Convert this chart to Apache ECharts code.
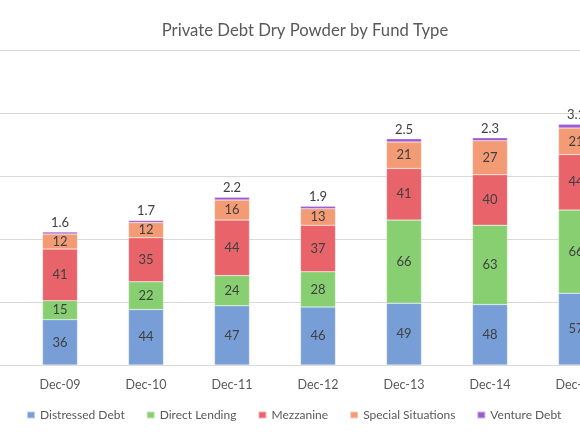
<!DOCTYPE html>
<html>
<head>
<meta charset="utf-8">
<script src="https://cdn.jsdelivr.net/npm/echarts@6/dist/echarts.min.js"></script>
<style>
  html, body { margin: 0; padding: 0; background: #fff; overflow: hidden; }
  #main { width: 620px; height: 435px; }
</style>
</head>
<body>
<div id="main"></div>
<script>
// data
var categories = ['Dec-09', 'Dec-10', 'Dec-11', 'Dec-12', 'Dec-13', 'Dec-14', 'Dec-15'];
var distressed = [36, 44, 47, 46, 49, 48, 57];
var directLending = [15, 22, 24, 28, 66, 63, 66];
var mezzanine = [41, 35, 44, 37, 41, 40, 44];
var specialSit = [12, 12, 16, 13, 21, 27, 21];
var venture = [1.6, 1.7, 2.2, 1.9, 2.5, 2.3, 3.1];
var yTicks = [0, 50, 100, 150, 200, 250];

var font = 'Lato';
var textColor = '#595959';
var gridColor = '#d9d9d9';

// the chart is wider than the window; the right part is cut off like in the source
var chart = echarts.init(document.getElementById('main'));

function seg(name, data, color, pos) {
    return {
        name: name,
        type: 'bar',
        stack: 'total',
        barWidth: 35,
        data: data,
        itemStyle: { color: color, borderColor: 'rgba(255,255,255,0.5)', borderWidth: 0.5 },
        label: {
            show: true,
            position: pos || 'inside',
            color: '#404040',
            fontFamily: font,
            fontSize: 13,
            distance: 3
        }
    };
}

var option = {
    backgroundColor: '#fff',
    animation: false,
    title: {
        text: 'Private Debt Dry Powder by Fund Type',
        left: 300,
        textAlign: 'center',
        top: 17,
        textStyle: { fontFamily: font, fontSize: 16.7, fontWeight: 'normal', color: textColor }
    },
    legend: {
        left: 21,
        top: 404,
        icon: 'rect',
        itemWidth: 8,
        itemHeight: 7,
        itemGap: 21,
        textStyle: { fontFamily: font, fontSize: 12, color: textColor },
        data: ['Distressed Debt', 'Direct Lending', 'Mezzanine', 'Special Situations', 'Venture Debt']
    },
    grid: { left: 17, width: 602, top: 50, height: 315 },
    xAxis: {
        type: 'category',
        data: categories,
        axisLine: { show: true, lineStyle: { color: gridColor } },
        axisTick: { show: false },
        axisLabel: { color: textColor, fontFamily: font, fontSize: 12.5, margin: 13 }
    },
    yAxis: {
        type: 'value',
        min: yTicks[0],
        max: yTicks[yTicks.length - 1],
        interval: yTicks[1] - yTicks[0],
        axisLabel: { show: false },
        axisLine: { show: false },
        axisTick: { show: false },
        splitLine: { lineStyle: { color: gridColor, width: 1 } }
    },
    series: [
        seg('Distressed Debt', distressed, '#789ed8'),
        seg('Direct Lending', directLending, '#88cf72'),
        seg('Mezzanine', mezzanine, '#e8636a'),
        seg('Special Situations', specialSit, '#f29b74'),
        seg('Venture Debt', venture, '#9e5bd0', 'top')
    ]
};

chart.setOption(option);

// gridlines run on to the left edge of the picture
var stubs = yTicks.map(function (v) {
    var y = Math.round(chart.convertToPixel({ yAxisIndex: 0 }, v)) + 0.5;
    return {
        type: 'line',
        silent: true,
        shape: { x1: 0, y1: y, x2: 17, y2: y },
        style: { stroke: gridColor, lineWidth: 1 }
    };
});
chart.setOption({ graphic: stubs });
</script>
</body>
</html>
